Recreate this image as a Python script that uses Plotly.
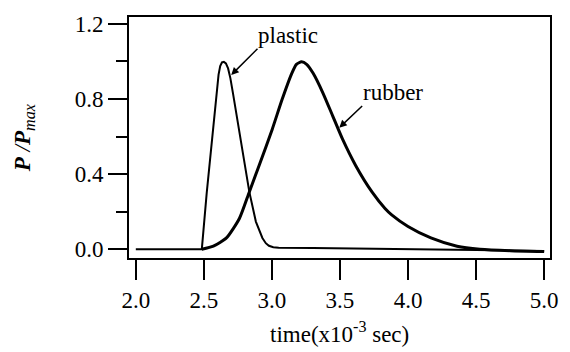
import plotly.graph_objects as go

# Data
plastic_x = [2.0, 2.485, 2.521, 2.557, 2.593, 2.608, 2.62, 2.633, 2.647, 2.662, 2.678, 2.695, 2.714,
             2.762, 2.81, 2.834, 2.882, 2.905, 2.93, 2.955, 2.978, 3.01, 3.05, 3.3, 3.6, 4.0, 4.5, 5.0]
plastic_y = [0.0, 0.0, 0.3, 0.568, 0.84, 0.93, 0.975, 0.995, 0.998, 0.99, 0.963, 0.91, 0.83,
             0.62, 0.41, 0.305, 0.147, 0.1, 0.06, 0.032, 0.018, 0.01, 0.008, 0.006, 0.004, 0.0, -0.005, -0.01]

rubber_x = [2.485, 2.57, 2.666, 2.762, 2.834, 2.906, 3.002, 3.074, 3.146, 3.18, 3.218, 3.255, 3.303,
            3.375, 3.447, 3.519, 3.615, 3.735, 3.831, 3.88, 4.0, 4.168, 4.36, 4.528, 4.75, 5.0]
rubber_y = [0.0, 0.016, 0.06, 0.165, 0.305, 0.446, 0.638, 0.796, 0.937, 0.985, 0.998, 0.985, 0.937,
            0.832, 0.709, 0.586, 0.446, 0.305, 0.217, 0.183, 0.121, 0.06, 0.016, 0.0, -0.008, -0.012]

x_ticks = [2.0, 2.5, 3.0, 3.5, 4.0, 4.5, 5.0]
y_ticks = [0.0, 0.4, 0.8, 1.2]
y_minor = [0.2, 0.6, 1.0]

FONT = "Liberation Serif"
FS = 23

fig = go.Figure()
fig.add_trace(go.Scatter(x=plastic_x, y=plastic_y, mode="lines",
                         line=dict(color="black", width=2, shape="linear"),
                         showlegend=False, hoverinfo="skip"))
fig.add_trace(go.Scatter(x=rubber_x, y=rubber_y, mode="lines",
                         line=dict(color="black", width=3, shape="spline", smoothing=0.6),
                         showlegend=False, hoverinfo="skip"))

fig.update_layout(
    width=570, height=352,
    margin=dict(l=129, r=12, t=13, b=94),
    paper_bgcolor="white", plot_bgcolor="white",
    font=dict(family=FONT, size=FS, color="black"),
    xaxis=dict(range=[1.95, 5.043], tickvals=x_ticks, ticktext=[f"{v:.1f}" for v in x_ticks],
               showline=True, mirror=True, linecolor="black", linewidth=2,
               ticks="outside", ticklen=20, tickwidth=2, tickcolor="black",
               showgrid=False, zeroline=False, tickfont=dict(family=FONT, size=FS)),
    yaxis=dict(range=[-0.047, 1.237], tickvals=y_ticks, ticktext=[f"{v:.1f}" for v in y_ticks],
               showline=True, mirror=True, linecolor="black", linewidth=2,
               ticks="outside", ticklen=19, tickwidth=2, tickcolor="black",
               showgrid=False, zeroline=False, tickfont=dict(family=FONT, size=FS),
               minor=dict(tickvals=y_minor, ticks="outside", ticklen=11,
                          tickwidth=2, tickcolor="black", showgrid=False)),
)

# axis titles
fig.add_annotation(text="time(x10<sup>-3</sup> sec)", xref="paper", yref="paper",
                   x=0.5, y=-0.31, xanchor="center", yanchor="middle", showarrow=False,
                   font=dict(family=FONT, size=FS))
fig.add_annotation(text="<i><b>P</b> /<b>P</b><sub>max</sub></i>", xref="paper", yref="paper",
                   x=-0.25, y=0.5, xanchor="center", yanchor="middle", textangle=-90,
                   showarrow=False, font=dict(family=FONT, size=FS))

# labels with arrows (text sits at the arrow tail)
fig.add_annotation(text="plastic", x=2.701, y=0.928, ax=2.894, ay=1.068, xref="x", yref="y",
                   axref="x", ayref="y", xanchor="left", yanchor="bottom",
                   showarrow=True, arrowhead=2, arrowsize=1, arrowwidth=1.5,
                   arrowcolor="black", borderpad=0, font=dict(family=FONT, size=FS))
fig.add_annotation(text="rubber", x=3.495, y=0.647, ax=3.663, ay=0.763, xref="x", yref="y",
                   axref="x", ayref="y", xanchor="left", yanchor="bottom",
                   showarrow=True, arrowhead=2, arrowsize=1, arrowwidth=1.5,
                   arrowcolor="black", borderpad=0, font=dict(family=FONT, size=FS))

fig.write_html("out.html")
